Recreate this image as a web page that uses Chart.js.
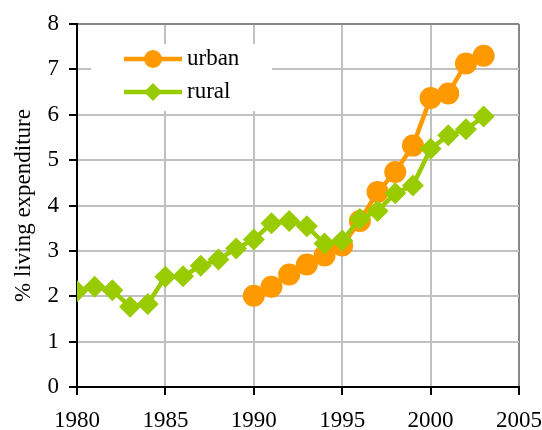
<!DOCTYPE html>
<html>
<head>
<meta charset="utf-8">
<script src="https://cdn.jsdelivr.net/npm/chart.js@4/dist/chart.umd.min.js"></script>
<style>
  html, body { margin: 0; padding: 0; background: #fff; }
  #wrap { width: 542px; height: 430px; }
</style>
</head>
<body>
<div id="wrap"><canvas id="chart" width="542" height="430"></canvas></div>
<script>
const urbanYears = [1990, 1991, 1992, 1993, 1994, 1995, 1996, 1997, 1998, 1999, 2000, 2001, 2002, 2003];
const urbanValues = [2.01, 2.21, 2.48, 2.70, 2.90, 3.12, 3.66, 4.30, 4.74, 5.32, 6.37, 6.47, 7.13, 7.30];
const ruralYears = [1980, 1981, 1982, 1983, 1984, 1985, 1986, 1987, 1988, 1989, 1990, 1991,
  1992, 1993, 1994, 1995, 1996, 1997, 1998, 1999, 2000, 2001, 2002, 2003];
const ruralValues = [2.11, 2.21, 2.13, 1.77, 1.83, 2.43, 2.44, 2.67, 2.81, 3.05, 3.25, 3.61,
  3.66, 3.54, 3.16, 3.23, 3.70, 3.88, 4.27, 4.44, 5.25, 5.55, 5.68, 5.96];
const xTicks = [1980, 1985, 1990, 1995, 2000, 2005];
const yTicks = [0, 1, 2, 3, 4, 5, 6, 7, 8];

const ORANGE = '#ff9900';
const GREEN = '#99cc00';
const FONT = "'Liberation Serif', 'Times New Roman', serif";

function toPoints(xs, ys) {
  return xs.map((x, i) => ({ x, y: ys[i] }));
}

// legend drawn inside the plot, over the gridlines
const insideLegend = {
  id: 'insideLegend',
  afterDatasetsDraw(chart) {
    const ctx = chart.ctx;
    ctx.save();
    ctx.fillStyle = '#fff';
    ctx.fillRect(91, 44, 181, 67);
    chart.data.datasets.forEach((ds, i) => {
      const y = 59 + i * 33;
      ctx.strokeStyle = ds.borderColor;
      ctx.lineWidth = 4.5;
      ctx.beginPath();
      ctx.moveTo(124, y);
      ctx.lineTo(182, y);
      ctx.stroke();
      ctx.fillStyle = ds.borderColor;
      ctx.beginPath();
      if (ds.pointStyle === 'circle') {
        ctx.arc(153, y, 9, 0, Math.PI * 2);
      } else {
        ctx.moveTo(153 - 9, y);
        ctx.lineTo(153, y - 9);
        ctx.lineTo(153 + 9, y);
        ctx.lineTo(153, y + 9);
        ctx.closePath();
      }
      ctx.fill();
      ctx.fillStyle = '#000';
      ctx.font = '23px ' + FONT;
      ctx.textBaseline = 'middle';
      ctx.fillText(ds.label, 187, y);
    });
    ctx.restore();
  },
};

new Chart(document.getElementById('chart'), {
  type: 'line',
  data: {
    datasets: [
      {
        label: 'urban',
        data: toPoints(urbanYears, urbanValues),
        borderColor: ORANGE,
        backgroundColor: ORANGE,
        borderWidth: 4.5,
        pointStyle: 'circle',
        pointRadius: 11,
        pointBorderWidth: 0,
        order: 2,
      },
      {
        label: 'rural',
        data: toPoints(ruralYears, ruralValues),
        borderColor: GREEN,
        backgroundColor: GREEN,
        borderWidth: 4.5,
        pointStyle: 'rectRot',
        pointRadius: 11,
        pointBorderWidth: 0,
        order: 1,
      },
    ],
  },
  options: {
    responsive: false,
    animation: false,
    layout: { padding: { top: 24, right: 23, left: 0, bottom: 0 } },
    plugins: { legend: { display: false }, tooltip: { enabled: false } },
    scales: {
      x: {
        type: 'linear',
        min: 1980,
        max: 2005,
        afterFit(scale) {
          scale.height = 43;
          scale.paddingLeft = 0;
          scale.paddingRight = 0;
        },
        afterBuildTicks(scale) { scale.ticks = xTicks.map((v) => ({ value: v })); },
        ticks: {
          color: '#000',
          font: { family: FONT, size: 23 },
          padding: 12,
          maxRotation: 0,
          callback: (v) => String(v),
        },
        grid: {
          color: (c) => (c.tick && c.tick.value === 2005 ? '#888' : '#c0c0c0'),
          lineWidth: 2,
          tickLength: 8,
          tickColor: '#000',
          tickWidth: 2,
        },
        border: { color: '#000', width: 2 },
      },
      y: {
        min: 0,
        max: 8,
        afterFit(scale) {
          scale.width = 77;
          scale.paddingTop = 0;
          scale.paddingBottom = 0;
        },
        afterBuildTicks(scale) { scale.ticks = yTicks.map((v) => ({ value: v })); },
        ticks: {
          color: '#000',
          font: { family: FONT, size: 23 },
          padding: 10,
        },
        grid: {
          color: (c) => (c.tick && c.tick.value === 8 ? '#888' : '#c0c0c0'),
          lineWidth: 2,
          tickLength: 8,
          tickColor: '#000',
          tickWidth: 2,
        },
        border: { color: '#000', width: 2 },
        title: {
          display: true,
          text: '% living expenditure',
          color: '#000',
          font: { family: FONT, size: 23 },
          padding: { top: 10, bottom: 0 },
        },
      },
    },
  },
  plugins: [insideLegend],
});
</script>
</body>
</html>
